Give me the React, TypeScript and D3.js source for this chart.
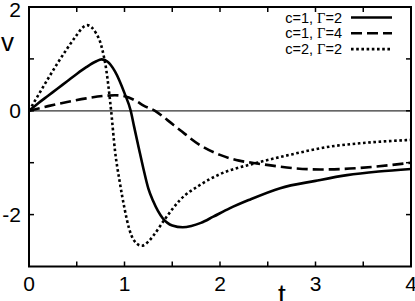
import React, { useRef, useEffect } from "react";
import * as d3 from "d3";

// c=1, Γ=2 (solid)
const tSolid = [0, 0.1, 0.2, 0.3, 0.4, 0.5, 0.6, 0.7, 0.76, 0.82, 0.9, 1.0, 1.065, 1.1, 1.15, 1.2, 1.25, 1.3, 1.35, 1.4, 1.45, 1.5, 1.61, 1.7, 1.8, 1.93, 2.1, 2.3, 2.63, 3.0, 3.33, 3.66, 4.0];
const vSolid = [0, 0.15, 0.29, 0.43, 0.57, 0.71, 0.84, 0.95, 0.99, 0.95, 0.76, 0.34, 0, -0.3, -0.72, -1.13, -1.5, -1.74, -1.93, -2.07, -2.16, -2.21, -2.245, -2.22, -2.16, -2.04, -1.88, -1.72, -1.49, -1.35, -1.24, -1.17, -1.12];

// c=1, Γ=4 (dashed)
const tDash = [0, 0.2, 0.4, 0.6, 0.8, 0.9, 1.0, 1.13, 1.2, 1.32, 1.45, 1.58, 1.79, 2.0, 2.2, 2.37, 2.6, 2.8, 3.05, 3.3, 3.6, 4.0];
const vDash = [0, 0.09, 0.17, 0.24, 0.29, 0.3, 0.28, 0.18, 0.1, 0, -0.18, -0.37, -0.66, -0.85, -0.96, -1.01, -1.07, -1.11, -1.13, -1.12, -1.08, -1.0];

// c=2, Γ=2 (dotted)
const tDot = [0, 0.1, 0.2, 0.3, 0.4, 0.5, 0.56, 0.61, 0.66, 0.7, 0.75, 0.78, 0.81, 0.83, 0.86, 0.9, 0.95, 1.0, 1.05, 1.1, 1.18, 1.25, 1.3, 1.43, 1.58, 1.79, 2.0, 2.37, 2.75, 3.15, 3.5, 4.0];
const vDot = [0, 0.31, 0.62, 0.92, 1.2, 1.46, 1.6, 1.65, 1.6, 1.5, 1.3, 1.08, 0.78, 0.5, 0, -0.76, -1.37, -1.88, -2.28, -2.5, -2.6, -2.52, -2.41, -2.07, -1.72, -1.43, -1.22, -1.01, -0.84, -0.69, -0.62, -0.56];

const xLabels = [0, 1, 2, 3, 4];
const yLabels = [2, 0, -2];
const legendLabels = [["c=1, ", "2"], ["c=1, ", "4"], ["c=2, ", "2"]];

const width = 415;
const height = 301;

export default function App() {
  const svgRef = useRef<SVGSVGElement>(null);

  useEffect(() => {
    const svg = d3.select(svgRef.current);
    svg.selectAll("*").remove();

    const x = d3.scaleLinear().domain([0, 4]).range([29, 411]);
    const y = d3.scaleLinear().domain([-3, 2]).range([266.5, 7]);

    const series = [
      { t: tSolid, v: vSolid, dash: null, w: 2.6 },
      { t: tDash, v: vDash, dash: "11,5", w: 2.6 },
      { t: tDot, v: vDot, dash: "2.6,2.6", w: 2.6 },
    ];

    // zero line
    svg
      .append("line")
      .attr("x1", x(0))
      .attr("x2", x(4))
      .attr("y1", y(0))
      .attr("y2", y(0))
      .attr("stroke", "#333")
      .attr("stroke-width", 1.2);

    const line = d3
      .line<[number, number]>()
      .x(d => x(d[0]))
      .y(d => y(d[1]))
      .curve(d3.curveMonotoneX);

    series.forEach(s => {
      const pts = s.t.map((t, i) => [t, s.v[i]] as [number, number]);
      svg
        .append("path")
        .attr("d", line(pts))
        .attr("fill", "none")
        .attr("stroke", "#000")
        .attr("stroke-width", s.w)
        .attr("stroke-dasharray", s.dash);
    });

    // frame
    svg
      .append("rect")
      .attr("x", x(0))
      .attr("y", y(2))
      .attr("width", x(4) - x(0))
      .attr("height", y(-3) - y(2))
      .attr("fill", "none")
      .attr("stroke", "#000")
      .attr("stroke-width", 2);

    // inward ticks
    const tickLen = 5;
    d3.range(0.5, 4, 0.5).forEach(t => {
      svg.append("line").attr("x1", x(t)).attr("x2", x(t)).attr("y1", y(-3)).attr("y2", y(-3) - tickLen).attr("stroke", "#000").attr("stroke-width", 1.5);
      svg.append("line").attr("x1", x(t)).attr("x2", x(t)).attr("y1", y(2)).attr("y2", y(2) + tickLen).attr("stroke", "#000").attr("stroke-width", 1.5);
    });
    d3.range(-2, 2, 1).forEach(v => {
      svg.append("line").attr("x1", x(0)).attr("x2", x(0) + tickLen).attr("y1", y(v)).attr("y2", y(v)).attr("stroke", "#000").attr("stroke-width", 1.5);
      svg.append("line").attr("x1", x(4)).attr("x2", x(4) - tickLen).attr("y1", y(v)).attr("y2", y(v)).attr("stroke", "#000").attr("stroke-width", 1.5);
    });

    const font = "Liberation Sans, Arial, sans-serif";

    svg
      .selectAll(".xl")
      .data(xLabels)
      .enter()
      .append("text")
      .attr("x", d => x(d))
      .attr("y", 291)
      .attr("text-anchor", "middle")
      .attr("font-family", font)
      .attr("font-size", 21)
      .text(d => d);

    svg
      .selectAll(".yl")
      .data(yLabels)
      .enter()
      .append("text")
      .attr("x", 21)
      .attr("y", d => (d === 2 ? 16.5 : y(d) + 7.5))
      .attr("text-anchor", "end")
      .attr("font-family", font)
      .attr("font-size", 21)
      .text(d => d);

    svg.append("text").attr("x", 1).attr("y", 51).attr("font-family", font).attr("font-size", 26).text("v");
    svg.append("text").attr("x", 278).attr("y", 304).attr("font-family", font).attr("font-size", 28).text("t");

    // legend
    legendLabels.forEach((lab, i) => {
      const yy = 22.5 + i * 15.8;
      const txt = svg
        .append("text")
        .attr("x", 342)
        .attr("y", yy)
        .attr("text-anchor", "end")
        .attr("font-family", font)
        .attr("font-size", 14.5);
      txt.append("tspan").text(lab[0]);
      txt.append("tspan").attr("font-family", "Liberation Serif, serif").text("\u0393");
      txt.append("tspan").text("=" + lab[1]);
      svg
        .append("line")
        .attr("x1", 351)
        .attr("x2", 392)
        .attr("y1", yy - 5)
        .attr("y2", yy - 5)
        .attr("stroke", "#000")
        .attr("stroke-width", series[i].w)
        .attr("stroke-dasharray", series[i].dash);
    });
  }, []);

  return (
    <svg
      ref={svgRef}
      width={width}
      height={height}
      style={{ position: "absolute", left: 0, top: 0, background: "#fff" }}
    ></svg>
  );
}
